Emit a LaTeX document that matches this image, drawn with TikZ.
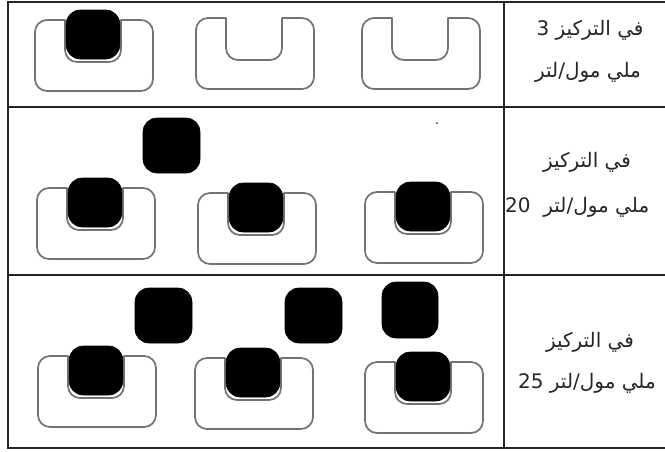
\documentclass[tikz,border=0pt]{standalone}
\usepackage{fontspec}
\newfontfamily\arabicfont[Script=Arabic]{DejaVu Sans}
\TeXXeTstate=1
\tikzset{
  recline/.style={draw=black!55, line width=1.7pt, line join=round},
  tbl/.style={draw=black!85, line width=1.6pt},
  blob/.style={fill=black, draw=black, line width=0.6pt, rounded corners=14pt},
  lbl/.style={font=\arabicfont\fontsize{20}{23}\selectfont, text=black!85, inner sep=0pt},
  recep/.pic={
    \path[recline] (30,0) -- (12,0) arc (90:180:12) -- (0,-59) arc (180:270:12)
      -- (106,-71) arc (270:360:12) -- (118,-12) arc (0:90:12) -- (86,0)
      -- (86,-30) arc (0:-90:12) -- (42,-42) arc (270:180:12) -- cycle;
  }
}
\newcommand\occ[2]{\path[blob] ({#1+31.2},{-#2+10}) rectangle ({#1+84.8},{-#2-39});}
\begin{document}
\begin{tikzpicture}[x=1pt,y=1pt]
\useasboundingbox[fill=white] (0,0) rectangle (665,-451);
% table
\draw[tbl] (680,-2) -- (8,-2) -- (8,-448) -- (680,-448);
\draw[tbl] (8,-107) -- (680,-107);
\draw[tbl] (8,-275) -- (680,-275);
\draw[tbl] (504,-2) -- (504,-448);
% row 1
\pic at (35,-20) {recep};
\occ{35}{20}
\pic at (196,-18) {recep};
\pic at (362,-18) {recep};
% row 2
\path[blob] (143,-118) rectangle (200,-173);
\fill (437,-123) circle (0.8);
\pic at (37,-188) {recep};
\occ{37}{188}
\pic at (198,-193) {recep};
\occ{198}{193}
\pic at (365,-192) {recep};
\occ{365}{192}
% row 3
\path[blob] (135,-288) rectangle (192,-343);
\path[blob] (285,-288) rectangle (342,-343);
\path[blob] (382,-282) rectangle (438,-338);
\pic at (38,-356) {recep};
\occ{38}{356}
\pic at (195,-358) {recep};
\occ{195}{358}
\pic at (365,-362) {recep};
\occ{365}{362}
% labels
\node[lbl] (r1a) at (590,-30) {\beginR في التركيز 3\endR};
\node[lbl] (r1b) at (588,-72) {\beginR ملي مول/لتر\endR};
\node[lbl] (r2a) at (587,-162) {\beginR في التركيز\endR};
\node[lbl, anchor=west] (r2b) at (505,-207) {20\ \ \beginR ملي مول/لتر\endR};
\node[lbl] (r3a) at (590,-342) {\beginR في التركيز\endR};
\node[lbl] (r3b) at (587,-383) {25 \beginR ملي مول/لتر\endR};
\end{tikzpicture}
\end{document}
